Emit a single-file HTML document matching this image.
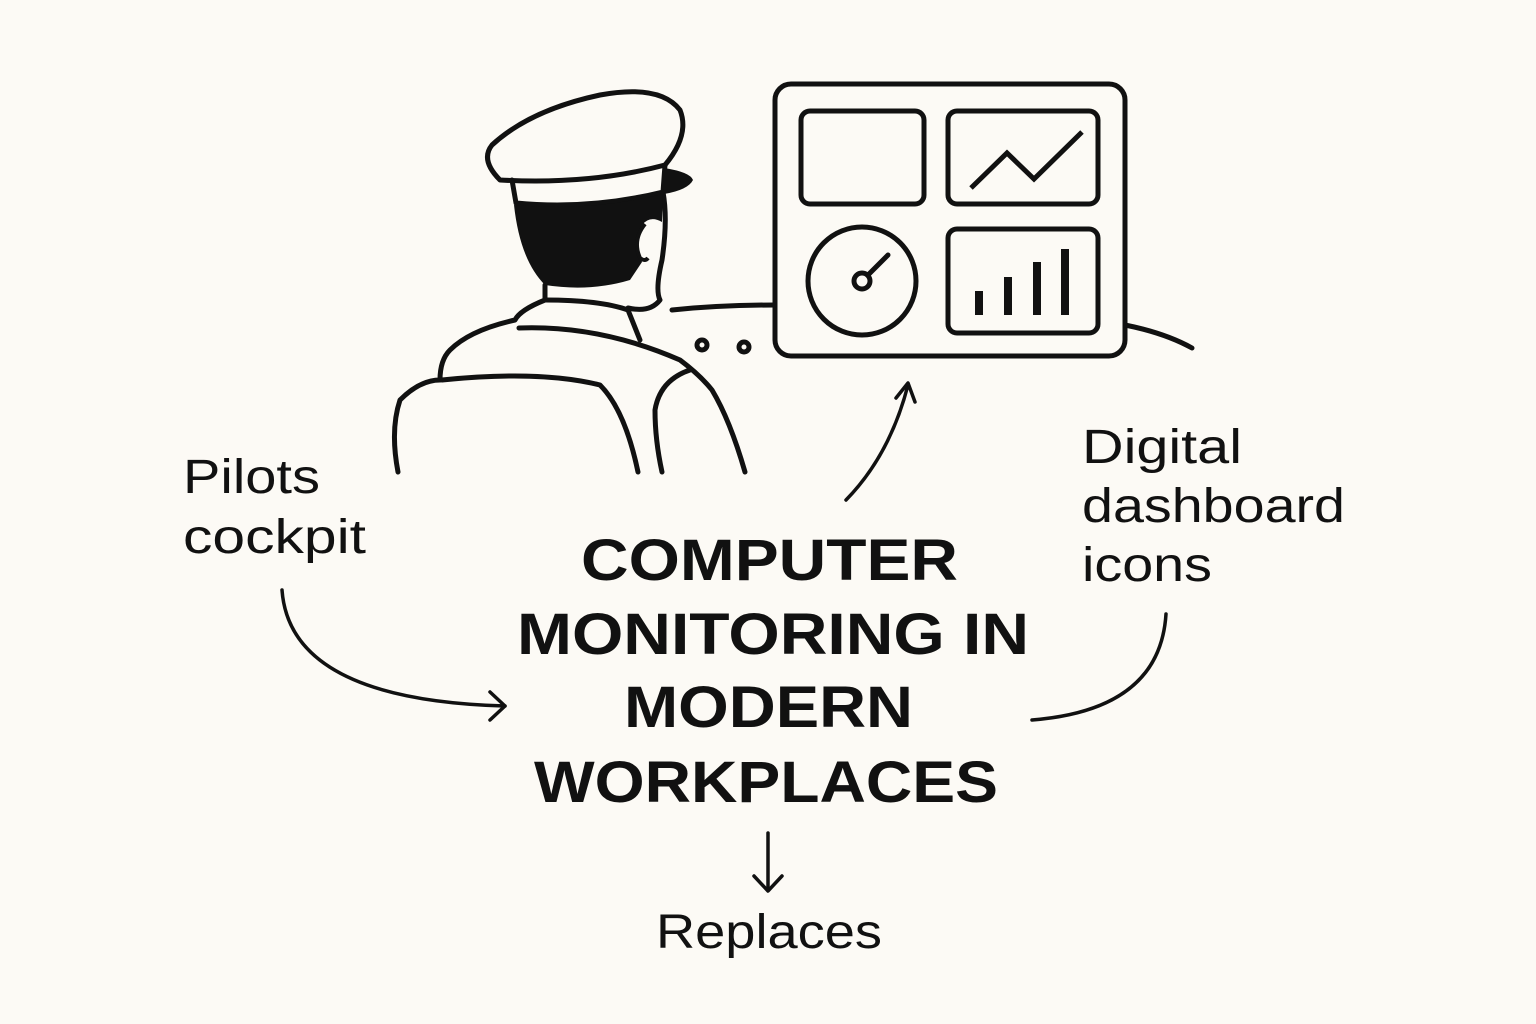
<!DOCTYPE html>
<html><head><meta charset="utf-8"><style>
html,body{margin:0;padding:0;background:#fcfaf5;}
svg{display:block}
text{font-family:"Liberation Sans",sans-serif;fill:#111;}
</style></head><body>
<svg width="1536" height="1024" viewBox="0 0 1536 1024" xmlns="http://www.w3.org/2000/svg">
<rect width="1536" height="1024" fill="#fcfaf5"/>
<g fill="none" stroke="#111" stroke-width="5" stroke-linecap="round" stroke-linejoin="round">
<rect x="775" y="84" width="350" height="272" rx="16"/>
<rect x="801" y="111" width="123" height="93" rx="9"/>
<rect x="948" y="111" width="150" height="93" rx="9"/>
<rect x="948" y="229" width="150" height="104" rx="9"/>
<circle cx="862" cy="281" r="54"/>
<circle cx="862" cy="281" r="8"/>
<line x1="868" y1="275" x2="888" y2="255"/>
<polyline points="971,188 1007,153 1034,179 1082,132" stroke-linecap="butt" stroke-linejoin="miter"/>
<path d="M672 310 Q720 305 775 305"/>
<path d="M1125 325 Q1165 333 1192 348"/>
<circle cx="702" cy="345" r="5"/>
<circle cx="744" cy="347" r="5"/>
<path d="M500 180 Q480 160 492 145 Q530 110 600 95 Q660 84 680 110 Q690 135 665 165 Q590 185 500 180 Z"/>
<path d="M512 180 L516 203 Q590 210 663 192 L665 165"/>
<path d="M663 192 Q668 220 662 260 Q655 290 660 300 Q650 313 628 308"/>
<path d="M545 285 L545 300 Q520 310 515 320 Q470 330 450 350 Q440 360 440 380"/>
<path d="M545 300 Q600 300 628 310 L640 340"/>
<path d="M440 380 Q420 380 400 400 Q390 430 398 472"/>
<path d="M442 380 Q540 370 600 385 Q625 410 638 472"/>
<path d="M519 328 Q600 325 680 360 Q700 375 712 390 Q730 420 745 472"/>
<path d="M690 370 Q660 380 655 410 Q655 440 662 472"/>
</g>
<g fill="#111">
<rect x="975" y="291" width="8" height="24"/>
<rect x="1004" y="277" width="8" height="38"/>
<rect x="1033" y="262" width="8" height="53"/>
<rect x="1061" y="249" width="8" height="66"/>
</g>
<path d="M664 168 Q690 172 693 180 Q688 190 664 194 Z" fill="#111"/>
<path d="M514 205 Q590 212 663 194 L662 222 Q650 215 642 225 Q635 245 642 262 L630 280 Q590 292 545 285 Q520 260 514 205 Z" fill="#111"/>
<path d="M645 224 Q632 240 640 258 Q645 262 648 258" fill="none" stroke="#111" stroke-width="4"/>
<g fill="none" stroke="#111" stroke-width="3.5" stroke-linecap="round" stroke-linejoin="round">
<path d="M282 590 Q290 700 505 706"/>
<path d="M490 692 L505 706 L490 720"/>
<path d="M846 500 Q890 455 908 385"/>
<path d="M896 398 L908 383 L915 402"/>
<path d="M1166 614 Q1160 710 1032 720"/>
<line x1="768" y1="833" x2="768" y2="890"/>
<path d="M754 876 L768 891 L782 876"/>
</g>
<g font-size="48" lengthAdjust="spacingAndGlyphs">
<text x="183" y="493" textLength="137" lengthAdjust="spacingAndGlyphs">Pilots</text>
<text x="183" y="553" textLength="183" lengthAdjust="spacingAndGlyphs">cockpit</text>
<text x="1082" y="463" textLength="160" lengthAdjust="spacingAndGlyphs">Digital</text>
<text x="1082" y="522" textLength="263" lengthAdjust="spacingAndGlyphs">dashboard</text>
<text x="1082" y="581" textLength="130" lengthAdjust="spacingAndGlyphs">icons</text>
<text x="656" y="948" textLength="226" lengthAdjust="spacingAndGlyphs">Replaces</text>
</g>
<g font-size="58" font-weight="bold">
<text x="581" y="580" textLength="377" lengthAdjust="spacingAndGlyphs">COMPUTER</text>
<text x="517" y="654" textLength="512" lengthAdjust="spacingAndGlyphs">MONITORING IN</text>
<text x="624" y="727" textLength="289" lengthAdjust="spacingAndGlyphs">MODERN</text>
<text x="534" y="802" textLength="464" lengthAdjust="spacingAndGlyphs">WORKPLACES</text>
</g>
</svg>
</body></html>
